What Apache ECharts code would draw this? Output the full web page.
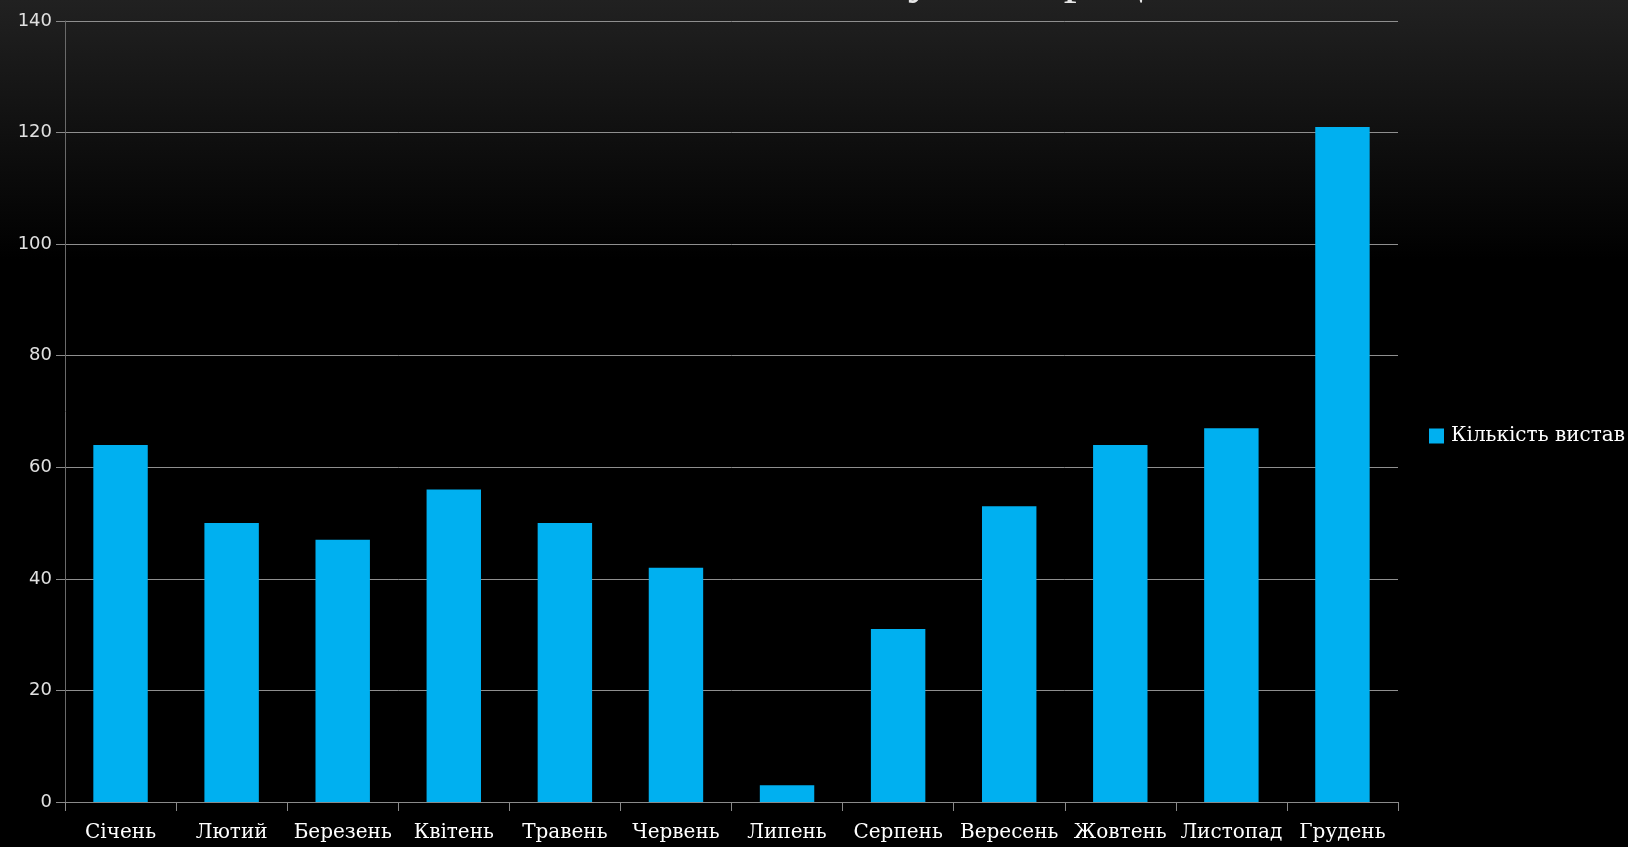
<!DOCTYPE html>
<html>
<head>
<meta charset="utf-8">
<script src="https://cdn.jsdelivr.net/npm/echarts@6/dist/echarts.min.js"></script>
<style>
html,body{margin:0;padding:0;width:1628px;height:847px;overflow:hidden;
background:linear-gradient(to bottom,#212121 0px,#0a0a0a 180px,#000 260px,#000 847px);}
#chart{width:1628px;height:847px;}
</style>
</head>
<body>
<div id="chart"></div>
<script>
const titleText = 'Кількість вистав у 2012 році';
const seriesName = 'Кількість вистав';
const months = ['Січень','Лютий','Березень','Квітень','Травень','Червень','Липень','Серпень','Вересень','Жовтень','Листопад','Грудень'];
const performances = [64, 50, 47, 56, 50, 42, 3, 31, 53, 64, 67, 121];

const chart = echarts.init(document.getElementById('chart'), null, {renderer:'canvas'});
chart.setOption({
  backgroundColor: 'transparent',
  animation: false,
  graphic: [{
    type: 'text',
    x: 1158, y: 4,
    style: {
      text: titleText,
      fill: '#e6e6e6',
      font: '52px "Liberation Serif"',
      textAlign: 'right',
      textVerticalAlign: 'bottom'
    }
  }],
  grid: {left: 65, right: 230, top: 21, bottom: 45, containLabel: false},
  legend: {
    data: [seriesName],
    left: 1424, top: 421,
    itemWidth: 15, itemHeight: 15, itemGap: 5,
    icon: 'rect',
    textStyle: {color: '#ffffff', fontFamily: 'DejaVu Serif', fontSize: 20, padding:[0,0,0,2]}
  },
  xAxis: {
    type: 'category',
    data: months,
    axisLine: {lineStyle: {color: '#8a8a8a', width: 1}},
    axisTick: {show: true, length: 9, alignWithLabel: false, lineStyle: {color: '#8a8a8a'}},
    axisLabel: {interval: 0, color: '#ffffff', fontFamily: 'DejaVu Serif', fontSize: 20, margin: 21}
  },
  yAxis: {
    type: 'value',
    min: 0, max: 140, interval: 20,
    axisLine: {show: true, lineStyle: {color: '#6a6a6a', width: 1}},
    axisTick: {show: true, length: 9, lineStyle: {color: '#8a8a8a'}},
    splitLine: {show: true, lineStyle: {color: '#8f8f8f', width: 1}},
    axisLabel: {color: '#e0e0e0', fontFamily: 'DejaVu Sans', fontSize: 18, margin: 13}
  },
  series: [{
    name: seriesName,
    type: 'bar',
    data: performances,
    barWidth: '49%',
    itemStyle: {color: '#00b0f0'}
  }]
});
</script>
</body>
</html>
